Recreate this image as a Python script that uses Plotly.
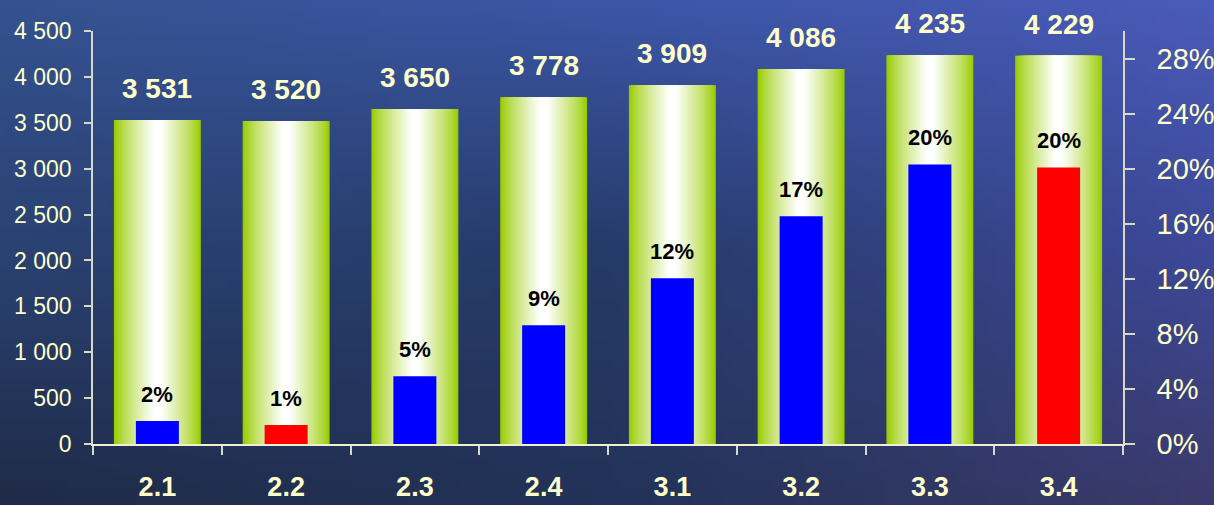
import plotly.graph_objects as go
import zlib, struct, base64

# ---------------- data ----------------
categories = ["2.1", "2.2", "2.3", "2.4", "3.1", "3.2", "3.3", "3.4"]
totals = [3531, 3520, 3650, 3778, 3909, 4086, 4235, 4229]
shares = [0.0167, 0.0138, 0.0493, 0.0863, 0.1204, 0.1654, 0.2031, 0.2009]
share_labels = ["2%", "1%", "5%", "9%", "12%", "17%", "20%", "20%"]
share_colors = ["#0000ff", "#ff0000", "#0000ff", "#0000ff", "#0000ff", "#0000ff", "#0000ff", "#ff0000"]
left_ticks = [0, 500, 1000, 1500, 2000, 2500, 3000, 3500, 4000, 4500]
right_ticks = [0, 0.04, 0.08, 0.12, 0.16, 0.20, 0.24, 0.28]

# ---------------- style ----------------
W, H = 1214, 505
M = dict(l=93, r=91, t=31, b=61)
CREAM = "#ffffcc"
AXIS = "#d8d8c8"
FONT = "Liberation Sans, Arial, sans-serif"
GREEN = (153, 204, 0)
WHITE = (255, 255, 255)


def hex2rgb(h):
    h = h.lstrip("#")
    return tuple(int(h[i:i + 2], 16) for i in (0, 2, 4))


# background gradient grid (rows top->bottom, cols left->right)
grid = [
    [hex2rgb("#34528f"), hex2rgb("#3b56a6"), hex2rgb("#4a5ab8")],
    [hex2rgb("#2a4272"), hex2rgb("#263a68"), hex2rgb("#3d4898")],
    [hex2rgb("#1f2b48"), hex2rgb("#223258"), hex2rgb("#3b3a6c")],
]


def bg_pixel(x, y, w, h):
    fx = x / (w - 1) * 2
    fy = y / (h - 1) * 2
    i0 = min(int(fy), 1)
    j0 = min(int(fx), 1)
    ty = fy - i0
    tx = fx - j0
    out = []
    for k in range(3):
        a = grid[i0][j0][k] * (1 - tx) + grid[i0][j0 + 1][k] * tx
        b = grid[i0 + 1][j0][k] * (1 - tx) + grid[i0 + 1][j0 + 1][k] * tx
        out.append(int(round(a * (1 - ty) + b * ty)))
    return out


def png_uri(w, h):
    raw = b"".join(
        b"\x00" + bytes(c for x in range(w) for c in bg_pixel(x, y, w, h)) for y in range(h)
    )

    def chunk(t, d):
        return struct.pack(">I", len(d)) + t + d + struct.pack(">I", zlib.crc32(t + d) & 0xFFFFFFFF)

    png = (b"\x89PNG\r\n\x1a\n" + chunk(b"IHDR", struct.pack(">IIBBBBB", w, h, 8, 2, 0, 0, 0))
           + chunk(b"IDAT", zlib.compress(raw)) + chunk(b"IEND", b""))
    return "data:image/png;base64," + base64.b64encode(png).decode()


fig = go.Figure()

# green/white "cylinder" bars: nested bars fading to white at the centre
BAR_W = 0.675
N = 24
for i in range(N):
    t = (i / (N - 1)) ** 0.8
    col = tuple(int(round(GREEN[k] * (1 - t) + WHITE[k] * t)) for k in range(3))
    fig.add_trace(go.Bar(
        x=categories, y=totals, yaxis="y",
        width=BAR_W * (1 - i / N * 0.95),
        marker=dict(color="rgb(%d,%d,%d)" % col, line=dict(width=0)),
        hoverinfo="skip", showlegend=False,
    ))

# share bars on the right axis
fig.add_trace(go.Bar(
    x=categories, y=shares, yaxis="y2", width=0.334,
    marker=dict(color=share_colors, line=dict(width=0)),
    showlegend=False,
))

annotations = []
for i, v in enumerate(totals):
    annotations.append(dict(
        x=i, y=v, xref="x", yref="y", yanchor="bottom", yshift=14, showarrow=False,
        text=f"{v:,}".replace(",", " "),
        font=dict(family=FONT, size=28, color=CREAM, weight="bold"),
    ))
for i, (p, lab) in enumerate(zip(shares, share_labels)):
    annotations.append(dict(
        x=i, y=p, xref="x", yref="y2", yanchor="bottom", yshift=12, showarrow=False,
        text=lab, font=dict(family=FONT, size=22, color="#000000", weight="bold"),
    ))

pw = W - M["l"] - M["r"]
ph = H - M["t"] - M["b"]

fig.update_layout(
    width=W, height=H, margin=dict(M, autoexpand=False),
    barmode="overlay",
    separators=". ",
    paper_bgcolor="#263a68",
    plot_bgcolor="rgba(0,0,0,0)",
    showlegend=False,
    annotations=annotations,
    images=[dict(
        source=png_uri(120, 50), xref="paper", yref="paper",
        x=-M["l"] / pw, y=1 + M["t"] / ph, sizex=W / pw, sizey=H / ph,
        xanchor="left", yanchor="top", sizing="stretch", layer="below",
    )],
    xaxis=dict(
        type="category", range=[-0.5, 7.5], automargin=False,
        showline=True, linecolor="#f0f0d0", linewidth=1.5,
        ticks="outside", tickson="boundaries", ticklen=9, tickcolor=AXIS, tickwidth=1.5,
        showgrid=False, zeroline=False,
        tickfont=dict(family=FONT, size=27, color=CREAM, weight="bold"),
        ticklabelstandoff=18,
    ),
    yaxis=dict(
        range=[0, 4500], tickvals=left_ticks, tickformat=",", automargin=False,
        showline=True, linecolor=AXIS, linewidth=1.5,
        ticks="outside", ticklen=7, tickcolor=AXIS, tickwidth=1.5,
        showgrid=False, zeroline=False,
        tickfont=dict(family=FONT, size=23, color=CREAM),
        ticklabelstandoff=8,
    ),
    yaxis2=dict(
        overlaying="y", side="right", range=[0, 0.3], tickvals=right_ticks, tickformat=".0%",
        automargin=False,
        showline=True, linecolor=AXIS, linewidth=1.5,
        ticks="outside", ticklen=10, tickcolor=AXIS, tickwidth=1.5,
        showgrid=False, zeroline=False,
        tickfont=dict(family=FONT, size=29, color=CREAM),
        ticklabelstandoff=16,
    ),
)

fig.write_html(
    "out.html",
    config={"displayModeBar": False},
    post_script="document.body.style.margin='0';document.body.style.overflow='hidden';",
)
